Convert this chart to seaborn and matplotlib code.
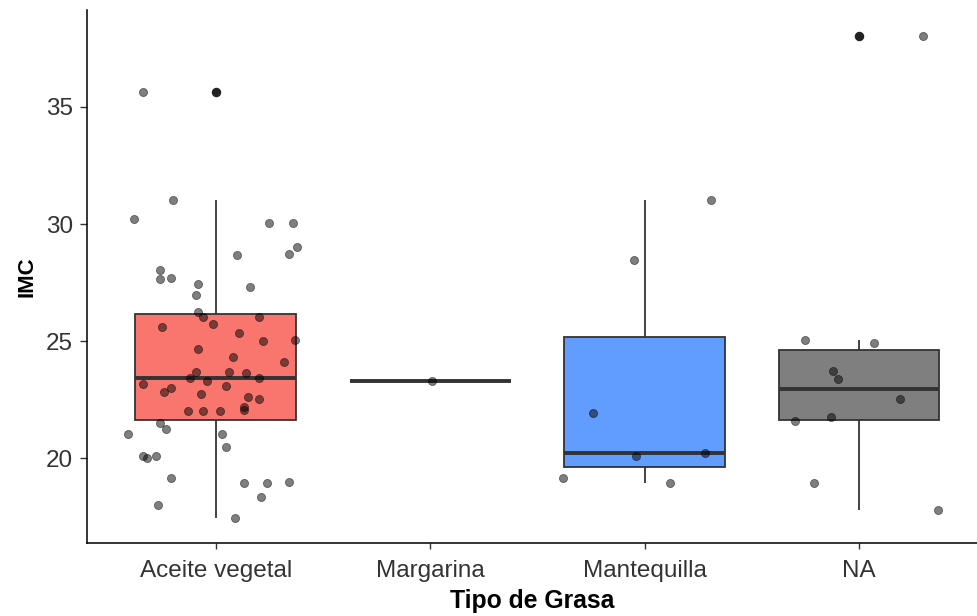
import numpy as np
import pandas as pd
import matplotlib
matplotlib.use("Agg")
import matplotlib.pyplot as plt
import seaborn as sns

# Categories and fill colours
categorias = ["Aceite vegetal", "Margarina", "Mantequilla", "NA"]
colores = ["#F8766D", "#00BA38", "#619CFF", "#7F7F7F"]

# IMC values per fat type, with the horizontal jitter of each point
imc_aceite = [35.65, 31.04, 30.23, 30.03, 30.03, 29.00, 28.73, 28.66, 28.05, 27.65,
              27.71, 27.44, 27.29, 26.95, 26.23, 26.01, 25.74, 26.01, 25.61, 25.33,
              24.99, 25.06, 24.64, 24.32, 24.10, 23.69, 23.69, 23.62, 23.42, 23.42,
              23.28, 23.15, 23.08, 23.00, 22.81, 22.74, 22.61, 22.54, 22.19, 22.05,
              21.99, 21.99, 21.99, 21.51, 21.24, 21.04, 21.04, 20.48, 20.09, 20.01,
              20.09, 19.13, 18.92, 18.92, 18.99, 18.32, 17.98, 17.44]
jit_aceite = [-0.34, -0.20, -0.38, 0.25, 0.36, 0.38, 0.34, 0.10, -0.26, -0.26,
              -0.21, -0.08, 0.16, -0.09, -0.08, -0.06, -0.01, 0.20, -0.25, 0.11,
              0.22, 0.37, -0.08, 0.08, 0.32, -0.09, 0.06, 0.14, -0.12, 0.20,
              -0.04, -0.34, 0.05, -0.21, -0.24, -0.07, 0.15, 0.20, 0.13, 0.13,
              -0.13, -0.06, 0.02, -0.26, -0.23, -0.41, 0.03, 0.05, -0.34, -0.32,
              -0.28, -0.21, 0.13, 0.24, 0.34, 0.21, -0.27, 0.09]

imc_margarina = [23.30]
jit_margarina = [0.01]

imc_mantequilla = [31.04, 28.46, 21.92, 20.10, 20.23, 19.15, 18.95]
jit_mantequilla = [0.31, -0.05, -0.24, -0.04, 0.28, -0.38, 0.12]

imc_na = [38.05, 25.06, 24.93, 23.70, 23.36, 22.54, 21.74, 21.60, 18.95, 17.78]
jit_na = [0.30, -0.25, 0.07, -0.12, -0.10, 0.19, -0.13, -0.30, -0.21, 0.37]

valores = [imc_aceite, imc_margarina, imc_mantequilla, imc_na]
jitters = [jit_aceite, jit_margarina, jit_mantequilla, jit_na]

df = pd.DataFrame({
    "grasa": np.concatenate([[c] * len(v) for c, v in zip(categorias, valores)]),
    "imc": np.concatenate(valores),
    "jit": np.concatenate(jitters),
})
df["pos"] = df["grasa"].map({c: i for i, c in enumerate(categorias)}) + df["jit"]

sns.set_theme(style="white")
plt.rcParams["font.family"] = ["Liberation Sans", "DejaVu Sans"]

fig = plt.figure(figsize=(9.77, 6.16), dpi=100)
ax = fig.add_axes([0.089, 0.1185, 0.911, 0.8655])

edge = "#333333"
sns.boxplot(
    data=df, x="grasa", y="imc", hue="grasa", order=categorias, hue_order=categorias,
    palette=dict(zip(categorias, colores)), legend=False, width=0.75, whis=1.5,
    linecolor=edge, linewidth=1.3, saturation=1, showcaps=False, ax=ax,
    medianprops=dict(linewidth=2.8, color=edge),
    flierprops=dict(marker="o", markerfacecolor="#222222", markeredgecolor="#222222",
                    markersize=5.8),
)

sns.scatterplot(
    data=df, x="pos", y="imc", color="black", alpha=0.5, s=34,
    edgecolor="black", linewidth=0.6, ax=ax, zorder=5,
)

ax.set_xlim(-0.6, 3.55)
ax.set_ylim(16.37, 39.15)
ax.set_yticks([20, 25, 30, 35])
ax.set_xticks(range(len(categorias)))
ax.set_xticklabels(categorias)

ax.set_xlabel("Tipo de Grasa", fontsize=17.8, fontweight="bold", color="black", labelpad=5)
ax.set_ylabel("IMC", fontsize=16, fontweight="bold", color="black", labelpad=6)
ax.tick_params(axis="x", which="both", length=4, width=1, color=edge,
               labelsize=17.5, labelcolor="#333333", pad=8, bottom=True)
ax.tick_params(axis="y", which="both", length=5, width=1, color=edge,
               labelsize=17.5, labelcolor="#333333", pad=5, left=True)

for side in ["top", "right"]:
    ax.spines[side].set_visible(False)
for side in ["left", "bottom"]:
    ax.spines[side].set_color("black")
    ax.spines[side].set_linewidth(1.1)

fig.savefig("out.png", dpi=100, facecolor="white")
